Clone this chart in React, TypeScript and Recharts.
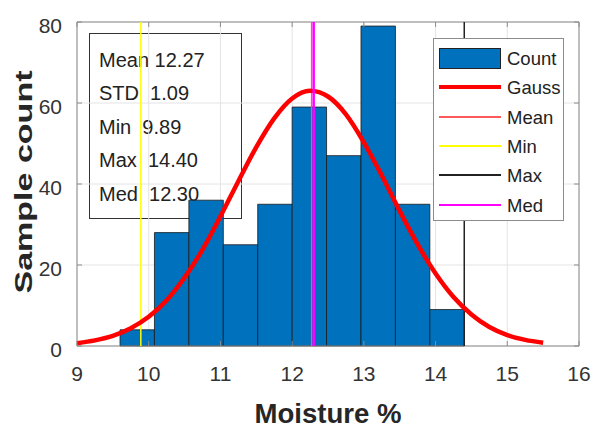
import React from "react";
import {
  ComposedChart,
  Line,
  XAxis,
  YAxis,
  CartesianGrid,
  ReferenceArea,
  ReferenceLine,
  Label,
} from "recharts";

// histogram bins (edges) and counts
const binEdges = [9.6, 10.08, 10.56, 11.04, 11.52, 12.0, 12.48, 12.96, 13.44, 13.92, 14.4];
const binCounts = [4, 28, 36, 25, 35, 59, 47, 79, 35, 9];

// fitted gauss curve
const gaussX = [9, 9.25, 9.5, 9.75, 10, 10.25, 10.5, 10.75, 11, 11.25, 11.5, 11.75, 12, 12.25, 12.5, 12.75, 13, 13.25, 13.5, 13.75, 14, 14.25, 14.5, 14.75, 15, 15.25, 15.5];
const gaussY = [0.7, 1.4, 2.5, 4.4, 7.2, 11.3, 16.9, 23.8, 32.0, 40.7, 49.1, 56.2, 61.1, 63.0, 61.6, 57.2, 50.3, 42.1, 33.3, 25.1, 17.9, 12.1, 7.8, 4.7, 2.7, 1.5, 0.8];

const statNames = ["Mean", "STD ", "Min ", "Max ", "Med "];
const statValues = ["12.27", "1.09", "9.89", "14.40", "12.30"];

const meanValue = 12.27;
const minValue = 9.89;
const maxValue = 14.4;
const medValue = 12.3;

const xTicks = [9, 10, 11, 12, 13, 14, 15, 16];
const yTicks = [0, 20, 40, 60, 80];

const legendItems = [
  { name: "Count", color: "#0072BD", kind: "box" },
  { name: "Gauss", color: "#ff0000", kind: "thick" },
  { name: "Mean", color: "#ff5a5a", kind: "line" },
  { name: "Min", color: "#ffff00", kind: "line" },
  { name: "Max", color: "#222222", kind: "line" },
  { name: "Med", color: "#ff00ff", kind: "line" },
];

const W = 592;
const H = 428;
const PLOT_W = 502;
const PLOT_H = 324;
const FONT = "'Liberation Sans', Arial, Helvetica, sans-serif";
const AXIS_GRAY = "#8c8c8c";

const chartData = gaussX.map((x, i) => ({ x, y: gaussY[i] }));

function XTick(props: any) {
  const { x, y, payload } = props;
  return (
    <g>
      <line x1={x} x2={x} y1={y} y2={y - 5} stroke={AXIS_GRAY} />
      <line x1={x} x2={x} y1={y - PLOT_H} y2={y - PLOT_H + 5} stroke={AXIS_GRAY} />
      <text x={x} y={y + 35} textAnchor="middle" fontSize={21} fill="#333" fontFamily={FONT}>
        {payload.value}
      </text>
    </g>
  );
}

function YTick(props: any) {
  const { x, y, payload } = props;
  return (
    <g>
      <line x1={x} x2={x + 5} y1={y} y2={y} stroke={AXIS_GRAY} />
      <line x1={x + PLOT_W - 5} x2={x + PLOT_W} y1={y} y2={y} stroke={AXIS_GRAY} />
      <text x={x - 15} y={y + 11} textAnchor="end" fontSize={21} fill="#333" fontFamily={FONT}>
        {payload.value}
      </text>
    </g>
  );
}

export default function App() {
  return (
    <div style={{ position: "absolute", left: 0, top: 0, width: W, height: H, background: "#fff", fontFamily: FONT }}>
      {/* stats box sits behind the plot, like the matlab annotation */}
      <div
        style={{
          position: "absolute",
          left: 89,
          top: 33,
          width: 153,
          height: 186,
          boxSizing: "border-box",
          border: "1px solid #333",
          paddingTop: 10,
          paddingLeft: 9,
          fontSize: 20,
          lineHeight: "33.4px",
          color: "#222",
          whiteSpace: "pre",
          zIndex: 0,
        }}
      >
        {statNames.map((n, i) => (
          <div key={n}>{`${n} ${statValues[i]}`}</div>
        ))}
      </div>

      <div style={{ position: "absolute", left: 0, top: 0, zIndex: 1 }}>
        <ComposedChart width={W} height={H} data={chartData} margin={{ top: 22, right: 13, bottom: 0, left: 0 }}>
          <CartesianGrid stroke="#e4e4e4" strokeWidth={1} />
          <XAxis
            dataKey="x"
            type="number"
            domain={[9, 16]}
            ticks={xTicks}
            height={82}
            axisLine={false}
            tickLine={false}
            tickSize={0}
            tickMargin={0}
            tick={<XTick />}
            interval={0}
            allowDataOverflow
          >
            <Label
              content={(p: any) => {
                const vb = p.viewBox;
                return (
                  <text
                    x={vb.x + vb.width / 2}
                    y={vb.y + 77}
                    textAnchor="middle"
                    fontSize={28}
                    fontWeight="bold"
                    fill="#262626"
                    fontFamily={FONT}
                    textLength={147}
                    lengthAdjust="spacingAndGlyphs"
                  >
                    Moisture %
                  </text>
                );
              }}
            />
          </XAxis>
          <YAxis
            type="number"
            domain={[0, 80]}
            ticks={yTicks}
            width={77}
            axisLine={false}
            tickLine={false}
            tickSize={0}
            tickMargin={0}
            tick={<YTick />}
            interval={0}
          >
            <Label
              content={(p: any) => {
                const vb = p.viewBox;
                const cx = 31.5;
                const cy = vb.y + vb.height / 2 - 2;
                return (
                  <text
                    x={cx}
                    y={cy}
                    transform={`rotate(-90, ${cx}, ${cy})`}
                    textAnchor="middle"
                    fontSize={24}
                    fontWeight="bold"
                    fill="#262626"
                    fontFamily={FONT}
                    textLength={223}
                    lengthAdjust="spacingAndGlyphs"
                  >
                    Sample count
                  </text>
                );
              }}
            />
          </YAxis>

          {binCounts.map((c, i) => (
            <ReferenceArea
              key={`bin-${i}`}
              x1={binEdges[i]}
              x2={binEdges[i + 1]}
              y1={0}
              y2={c}
              fill="#0072BD"
              fillOpacity={1}
              stroke="#1a1a1a"
              strokeWidth={0.8}
            />
          ))}

          <ReferenceLine x={minValue} stroke="#ffff00" strokeWidth={1.5} />
          <ReferenceLine x={maxValue} stroke="#222" strokeWidth={1.5} />
          <ReferenceLine x={meanValue} stroke="#ff5a5a" strokeWidth={1.2} />

          <Line
            dataKey="y"
            type="monotone"
            stroke="#ff0000"
            strokeWidth={4.5}
            dot={false}
            isAnimationActive={false}
          />

          <ReferenceLine x={medValue} stroke="#ff00ff" strokeWidth={2.5} />

          <ReferenceArea x1={9} x2={16} y1={0} y2={80} fill="none" stroke={AXIS_GRAY} strokeWidth={1} />
        </ComposedChart>
      </div>

      {/* legend */}
      <div
        style={{
          position: "absolute",
          left: 433,
          top: 38,
          width: 131,
          height: 183,
          boxSizing: "border-box",
          border: "1px solid #8c8c8c",
          background: "#fff",
          zIndex: 2,
        }}
      >
        {legendItems.map((item, i) => (
          <div
            key={item.name}
            style={{
              position: "absolute",
              left: 5,
              top: 4 + i * 29.3,
              height: 30,
              display: "flex",
              alignItems: "center",
            }}
          >
            {item.kind === "box" ? (
              <div style={{ width: 62, height: 21, boxSizing: "border-box", background: item.color, border: "1px solid #222" }} />
            ) : (
              <div style={{ width: 62, height: item.kind === "thick" ? 4 : 2, background: item.color }} />
            )}
            <span style={{ marginLeft: 6, fontSize: 18.5, color: "#222", lineHeight: "20px", paddingTop: 2 }}>{item.name}</span>
          </div>
        ))}
      </div>
    </div>
  );
}
